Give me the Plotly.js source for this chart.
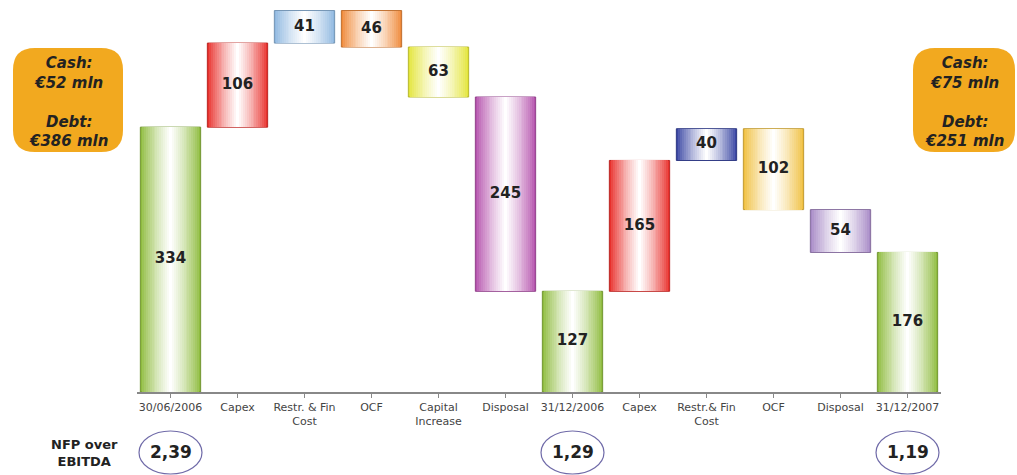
<!DOCTYPE html>
<html>
<head>
<meta charset="utf-8">
<script src="https://cdn.plot.ly/plotly-3.0.1.min.js"></script>
<style>html,body{margin:0;padding:0;background:#fff;}#chart{width:1017px;height:475px;}</style>
</head>
<body>
<div id="chart"></div>
<script>
// ---- data ----
const tickLabels = ["30/06/2006","Capex","Restr. & Fin<br>Cost","OCF","Capital<br>Increase","Disposal","31/12/2006","Capex","Restr.& Fin<br>Cost","OCF","Disposal","31/12/2007"];
const values = [334,106,41,46,63,245,127,165,40,102,54,176];
const measures = ["total","up","up","down","down","down","total","up","up","down","down","total"];
const barColors = ["#8fbc3f","#e8302c","#8fb8e0","#ef8a3a","#e3e53a","#b552ad","#8fbc3f","#e8302c","#3a46a3","#f0c040","#a78ac6","#8fbc3f"];
const ratioLabels = ["2,39","1,29","1,19"];
const ratioIdx = [0,6,11];
const boxLeft = ["Cash:","€52 mln","","Debt:","€386 mln"];
const boxRight = ["Cash:","€75 mln","","Debt:","€251 mln"];

// ---- geometry helpers ----
const W=1017,H=475, L=137, R=76, T=5, B=83;
const pw=W-L-R, ph=H-T-B;
const px2x = p => (p-L)/pw;
const px2y = p => (H-B-p)/ph;

// compute bases from data
const x = values.map((_,i)=>i);
let running=0; const base=[];
values.forEach((v,i)=>{
  const m=measures[i];
  if(m==="total"){ base.push(0); running=v; }
  else if(m==="up"){ base.push(running); running+=v; }
  else { running-=v; base.push(running); }
});

function hex2rgb(h){return [1,3,5].map(i=>parseInt(h.substr(i,2),16));}
function mix(h,t){const c=hex2rgb(h);return 'rgb('+c.map(v=>Math.round(v+(255-v)*t)).join(',')+')';}
function darker(h,f){const c=hex2rgb(h);return 'rgb('+c.map(v=>Math.round(v*f)).join(',')+')';}

const traces=[];
const N=16, fullW=0.9;
for(let k=0;k<N;k++){
  const t=Math.pow(k/(N-1),0.8);
  traces.push({
    type:'bar', x:x, y:values, base:base,
    width: fullW*(1-k/N),
    marker:{color:barColors.map(c=>mix(c,t)),
            line:{width:k===0?1:0,color:k===0?barColors.map(c=>darker(c,0.8)):'rgba(0,0,0,0)'}},
    hoverinfo:'skip', showlegend:false
  });
}
traces.push({
  type:'scatter', mode:'text', x:x,
  y:values.map((v,i)=>base[i]+v/2),
  text:values.map(String),
  textfont:{family:'DejaVu Sans',size:15,color:'#222',weight:'bold'},
  textposition:'middle center', hoverinfo:'skip', showlegend:false, cliponaxis:false
});

const shapes=[], annotations=[];
function roundBox(x0,y0,x1,y1,r){
  const X=px2x, Y=px2y;
  return 'M '+X(x0+r)+','+Y(y0)+' L '+X(x1-r)+','+Y(y0)+' Q '+X(x1)+','+Y(y0)+' '+X(x1)+','+Y(y0+r)+
   ' L '+X(x1)+','+Y(y1-r)+' Q '+X(x1)+','+Y(y1)+' '+X(x1-r)+','+Y(y1)+
   ' L '+X(x0+r)+','+Y(y1)+' Q '+X(x0)+','+Y(y1)+' '+X(x0)+','+Y(y1-r)+
   ' L '+X(x0)+','+Y(y0+r)+' Q '+X(x0)+','+Y(y0)+' '+X(x0+r)+','+Y(y0)+' Z';
}
shapes.push({type:'path',xref:'paper',yref:'paper',path:roundBox(13,48,123,152,22),fillcolor:'#f2a91f',line:{width:0},layer:'below'});
shapes.push({type:'path',xref:'paper',yref:'paper',path:roundBox(913,48,1015,152,22),fillcolor:'#f2a91f',line:{width:0},layer:'below'});
const boxFont={family:'DejaVu Sans',size:15,color:'#222',weight:'bold',style:'italic'};
annotations.push({xref:'paper',yref:'paper',x:px2x(68),y:px2y(102),xanchor:'center',yanchor:'middle',text:boxLeft.join('<br>'),showarrow:false,font:boxFont,align:'center'});
annotations.push({xref:'paper',yref:'paper',x:px2x(964),y:px2y(102),xanchor:'center',yanchor:'middle',text:boxRight.join('<br>'),showarrow:false,font:boxFont,align:'center'});
annotations.push({xref:'paper',yref:'paper',x:px2x(84),y:px2y(453),xanchor:'center',yanchor:'middle',text:'NFP over<br>EBITDA',showarrow:false,
  font:{family:'DejaVu Sans',size:13,color:'#222',weight:'bold'},align:'center'});
ratioIdx.forEach((idx,j)=>{
  shapes.push({type:'circle',xref:'x',yref:'paper',x0:idx-0.47,x1:idx+0.47,y0:px2y(431),y1:px2y(474),
    line:{color:'#6f6aa8',width:1.2}});
  annotations.push({xref:'x',yref:'paper',x:idx,y:px2y(452),xanchor:'center',yanchor:'middle',text:ratioLabels[j],showarrow:false,
    font:{family:'DejaVu Sans',size:17,color:'#222',weight:'bold'}});
});

const layout={
  width:W,height:H,margin:{l:L,r:R,t:T,b:B},
  paper_bgcolor:'#fff',plot_bgcolor:'#fff',
  barmode:'overlay', bargap:0, hovermode:false, showlegend:false,
  xaxis:{range:[-0.5,11.5],tickvals:x,ticktext:tickLabels,tickson:'boundaries',ticks:'outside',ticklen:4,
    tickcolor:'#888',showline:true,linecolor:'#888',linewidth:1.5,showgrid:false,zeroline:false,
    tickfont:{family:'DejaVu Sans',size:11,color:'#444'},tickangle:0,fixedrange:true},
  yaxis:{range:[0,ph/0.793],visible:false,fixedrange:true},
  shapes:shapes, annotations:annotations
};
Plotly.newPlot('chart',traces,layout,{displayModeBar:false,staticPlot:true});
</script>
</body>
</html>
